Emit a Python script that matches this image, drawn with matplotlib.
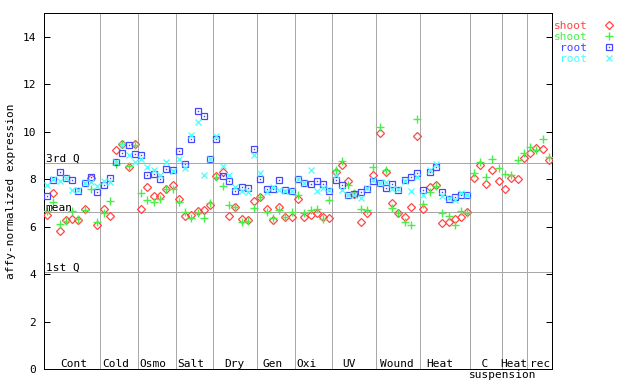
import numpy as np
import matplotlib
matplotlib.use("Agg")
import matplotlib.pyplot as plt
import matplotlib.transforms as mtransforms
from matplotlib.lines import Line2D

# sample groups along the x axis
GROUPS = ["Cont", "Cold", "Osmo", "Salt", "Dry", "Gen", "Oxi", "UV", "Wound",
          "Heat", "  C\nsuspension", "Heat", "rec"]
GROUP_SIZES = [9, 6, 6, 6, 7, 6, 6, 7, 7, 8, 5, 4, 4]
# label nudge in pixels (the original does not quite center them)
LABEL_NUDGE = [2, -4, -4.5, -4, -1, -3, -7, -5, -1, -6, 0, -1, 1]

SHOOT_1 = [6.47, 7.41, 5.82, 6.27, 6.33, 6.28, 6.73, 8.05, 6.07,
           6.75, 6.44, 9.22, 9.50, 8.52, 9.50,
           6.73, 7.67, 7.31, 7.28, 7.58, 7.76,
           7.16, 6.43, 6.49, 6.66, 6.70, 6.92,
           8.14, 8.28, 6.44, 6.82, 6.32, 6.28, 7.08,
           7.24, 6.73, 6.28, 6.82, 6.42, 6.39,
           7.15, 6.42, 6.48, 6.56, 6.40, 6.35,
           8.30, 8.60, 7.93, 7.37, 6.19, 6.56, 8.17,
           9.94, 8.30, 6.99, 6.56, 6.41, 6.82, 9.83,
           6.74, 7.66, 7.74, 6.14, 6.18, 6.32, 6.39, 6.62,
           8.03, 8.59, 7.79, 8.38, 7.91,
           7.58, 8.03, 8.00, 8.88,
           9.09, 9.30, 9.26, 8.79]
SHOOT_2 = [6.66, 7.03, 6.10, 6.24, 6.66, 6.31, 6.70, 7.58, 6.18,
           6.56, 7.08, 8.63, 9.50, 8.56, 9.45,
           7.42, 7.12, 7.04, 7.16, 7.58, 7.58,
           7.03, 6.60, 6.35, 6.59, 6.35, 6.99,
           8.08, 7.69, 6.90, 6.84, 6.18, 6.25, 6.77,
           7.24, 6.63, 6.35, 6.70, 6.42, 6.63,
           7.34, 6.56, 6.68, 6.73, 6.32, 7.12,
           8.39, 8.77, 7.75, 7.40, 6.75, 6.70, 8.50,
           10.19, 8.37, 6.78, 6.56, 6.19, 6.07, 10.53,
           6.94, 7.45, 7.70, 6.56, 6.44, 6.06, 6.65, 6.56,
           8.25, 8.72, 8.08, 8.84, 8.46,
           8.21, 8.17, 8.79, 9.09,
           9.35, 9.24, 9.68, 8.93]
ROOT_1 = [7.29, 7.97, 8.29, 8.03, 7.97, 7.51, 7.83, 8.08, 7.45,
          7.76, 8.04, 8.74, 9.09, 9.45, 9.05,
          9.02, 8.18, 8.22, 8.00, 8.43, 8.39,
          9.19, 8.64, 9.69, 10.88, 10.65, 8.84,
          9.69, 8.14, 7.93, 7.49, 7.66, 7.62, 9.26,
          8.00, 7.58, 7.58, 7.96, 7.53, 7.49,
          8.00, 7.82, 7.79, 7.93, 7.80, 7.52,
          7.97, 7.75, 7.32, 7.36, 7.46, 7.57, 7.92,
          7.82, 7.62, 7.80, 7.54, 7.95, 8.08, 8.25,
          7.53, 8.31, 8.50, 7.45, 7.15, 7.24, 7.32, 7.32]
ROOT_2 = [7.76, 8.00, 7.93, 8.03, 7.55, 7.55, 7.83, 7.90, 7.69,
          7.93, 7.90, 8.74, 9.45, 9.02, 8.74,
          8.84, 8.52, 8.39, 8.18, 8.74, 8.34,
          8.84, 8.46, 9.87, 10.40, 8.17, 8.84,
          9.80, 8.56, 8.17, 7.66, 7.48, 7.45, 9.02,
          8.25, 7.44, 7.66, 7.55, 7.52, 7.48,
          8.00, 7.85, 8.38, 7.51, 7.63, 7.55,
          8.18, 7.53, 7.32, 7.35, 7.20, 7.64, 7.96,
          7.83, 7.86, 7.59, 7.60, 7.94, 7.50, 8.08,
          7.33, 8.39, 8.64, 7.27, 7.20, 7.10, 7.41, 7.32]

QUARTILES = [("1st Q", 4.09), ("mean", 6.61), ("3rd Q", 8.69)]
YTICKS = [0, 2, 4, 6, 8, 10, 12, 14]

RED = "#ff4646"
GREEN = "#46f046"
BLUE = "#4646ff"
CYAN = "#46ffff"
GRAY = "#a8a8a8"
FONT = {"family": "DejaVu Sans Mono", "size": 8}
PX = 0.72  # one pixel in points at 100 dpi

plt.rcParams["font.family"] = "DejaVu Sans Mono"
plt.rcParams["font.size"] = 8

fig = plt.figure(figsize=(6.4, 3.84), dpi=100)
ax = fig.add_axes([44 / 640, 15 / 384, 508 / 640, 356 / 384])

n = sum(GROUP_SIZES)
ax.set_xlim(-0.5, n - 0.5)
ax.set_ylim(0, 15)

# group separators
bounds = np.cumsum(GROUP_SIZES)
for b in bounds[:-1]:
    ax.axvline(b - 0.5, color=GRAY, lw=PX, zorder=1)

# quartile lines
for label, val in QUARTILES:
    ax.axhline(val, color=GRAY, lw=PX, zorder=1)
    ax.text(0.003, val + 0.05, label, transform=ax.get_yaxis_transform(),
            ha="left", va="baseline", fontdict=FONT, zorder=5)

x_shoot = np.arange(len(SHOOT_1))
x_root = np.arange(len(ROOT_1))

red_kw = dict(ls="none", marker="D", ms=4, mfc="none", mec=RED, mew=0.9)
green_kw = dict(ls="none", marker="+", ms=6, mec=GREEN, mew=1.0)
blue_kw = dict(ls="none", marker="s", ms=5, mfc="none", mec=BLUE, mew=0.9)
dot_kw = dict(ls="none", marker="s", ms=1.0, mfc=BLUE, mec=BLUE, mew=0)
cyan_kw = dict(ls="none", marker="x", ms=4.5, mec=CYAN, mew=0.9)

ax.plot(x_shoot, SHOOT_1, zorder=3, **red_kw)
ax.plot(x_shoot, SHOOT_2, zorder=3, **green_kw)
ax.plot(x_root, ROOT_1, zorder=3, **blue_kw)
ax.plot(x_root, ROOT_1, zorder=3, **dot_kw)
ax.plot(x_root, ROOT_2, zorder=3, **cyan_kw)

# group labels at the bottom of the plot; a two-line label is written
# line by line, left aligned at the group start, the second line below the axis
starts = bounds - np.array(GROUP_SIZES)
for name, s, size, dx in zip(GROUPS, starts, GROUP_SIZES, LABEL_NUDGE):
    lines = name.split("\n")
    if len(lines) == 1:
        tr = mtransforms.offset_copy(ax.get_xaxis_transform(), fig=fig,
                                     x=dx, y=0, units="dots")
        ax.text(s + (size - 1) / 2, 0.0056, name, transform=tr, ha="center",
                va="baseline", fontdict=FONT, clip_on=False)
    else:
        for k, line in enumerate(lines):
            tr = mtransforms.offset_copy(ax.get_xaxis_transform(), fig=fig,
                                         x=dx - 2, y=-11 * k, units="dots")
            ax.text(s - 0.5, 0.0056, line, transform=tr, ha="left",
                    va="baseline", fontdict=FONT, clip_on=False)

ax.set_yticks(YTICKS)
ax.set_yticklabels([str(t) for t in YTICKS])
ax.set_xticks([])
ax.tick_params(axis="y", direction="in", length=6 * PX, width=PX,
               pad=8 * PX, right=True, labelsize=8)
for sp in ax.spines.values():
    sp.set_linewidth(PX)
    sp.set_color("black")

ax.set_ylabel("affy-normalized expression", fontdict=FONT)
ax.yaxis.set_label_coords(-0.055, 0.5)

# legend: text right aligned, marker after it
handles = [Line2D([], [], **red_kw), Line2D([], [], **green_kw),
           (Line2D([], [], **blue_kw), Line2D([], [], **dot_kw)),
           Line2D([], [], **cyan_kw)]
labels = ["shoot", "shoot", "root", "root"]
ax.legend(handles, labels, loc="upper right",
          bbox_to_anchor=(615 / 640, 1 - 21 / 384),
          bbox_transform=fig.transFigure, frameon=False, markerfirst=False,
          handlelength=1.0, handletextpad=1.5, labelspacing=0.08,
          borderpad=0, borderaxespad=0, prop=FONT,
          labelcolor=[RED, GREEN, BLUE, CYAN])

fig.savefig("out.png", dpi=100)
